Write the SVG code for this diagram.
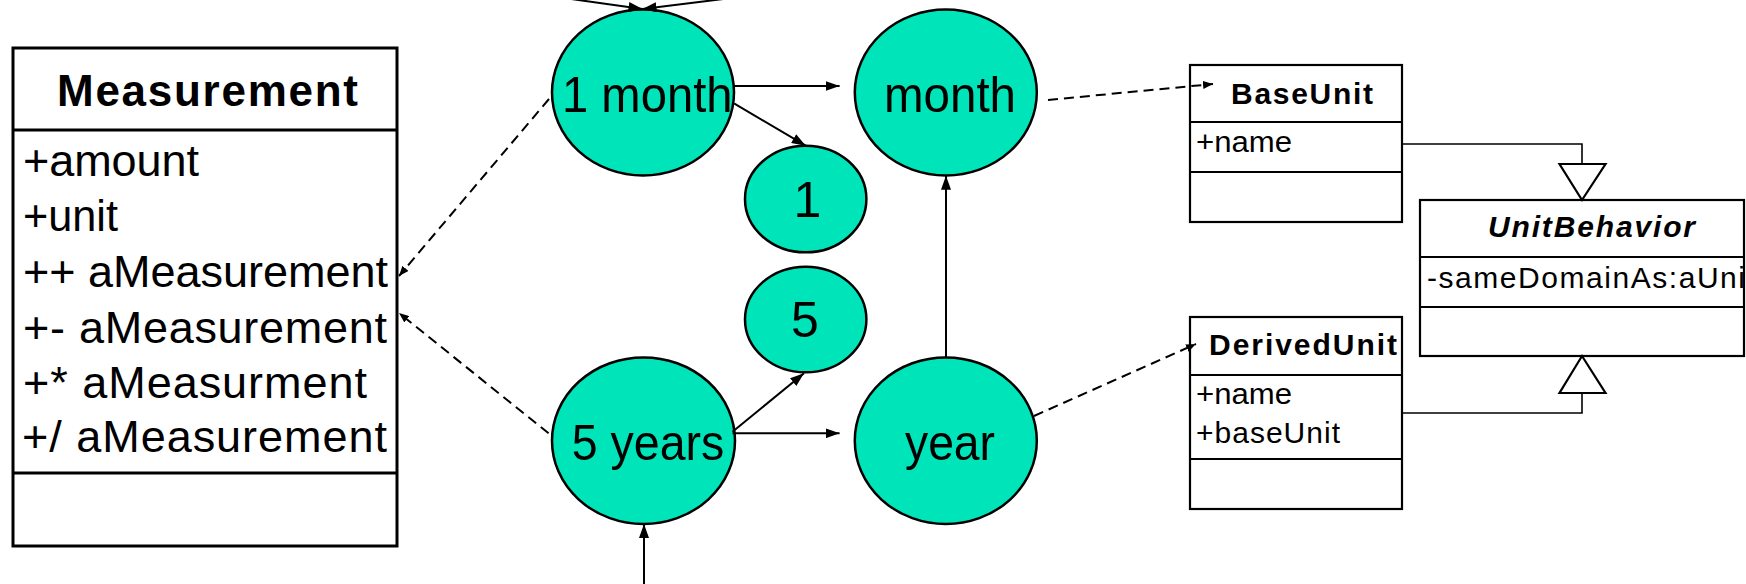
<svg xmlns="http://www.w3.org/2000/svg" width="1746" height="584" viewBox="0 0 1746 584">
<style>
.box{fill:#fff;stroke:#000;stroke-width:3}
.sbox{fill:#fff;stroke:#000;stroke-width:2.2}
.div{stroke:#000;stroke-width:3}
.sdiv{stroke:#000;stroke-width:2.2}
.node{fill:#00E4B9;stroke:#000;stroke-width:2.5}
.t{font-family:"Liberation Sans",Arial,sans-serif;fill:#000}
.big{font-size:50px}
.attr{font-size:45px}
.title{font-size:44px;font-weight:bold}
.st{font-size:30px;font-weight:bold}
.sa{font-size:30px}
.solid{stroke:#000;stroke-width:2;fill:none;marker-end:url(#arr)}
.dash{stroke:#000;stroke-width:2;fill:none;stroke-dasharray:10 6;marker-end:url(#darr)}
.gen{stroke:#000;stroke-width:1.6;fill:none}
.tri{fill:#fff;stroke:#000;stroke-width:2.2}
</style>
<defs>
<marker id="arr" viewBox="0 0 14 10" refX="14" refY="5" markerWidth="14" markerHeight="10" markerUnits="userSpaceOnUse" orient="auto"><path d="M0,0 L14,5 L0,10 z" fill="#000"/></marker>
<marker id="darr" viewBox="0 0 10 8" refX="10" refY="4" markerWidth="10" markerHeight="8" markerUnits="userSpaceOnUse" orient="auto"><path d="M0,0 L10,4 L0,8 z" fill="#000"/></marker>
</defs>

<g id="measurement">
<rect class="box" x="13" y="48" width="384" height="498"/>
<line class="div" x1="13" y1="130" x2="397" y2="130"/>
<line class="div" x1="13" y1="473" x2="397" y2="473"/>
<text class="t title" x="57" y="106" textLength="301" lengthAdjust="spacing">Measurement</text>
<text class="t attr" x="23" y="175.5" textLength="176" lengthAdjust="spacing">+amount</text>
<text class="t attr" x="23" y="231" textLength="95" lengthAdjust="spacingAndGlyphs">+unit</text>
<text class="t attr" x="23" y="287" textLength="365" lengthAdjust="spacing">++ aMeasurement</text>
<text class="t attr" x="23" y="342.5" textLength="364" lengthAdjust="spacing">+- aMeasurement</text>
<text class="t attr" x="23" y="397.5" textLength="344" lengthAdjust="spacing">+* aMeasurment</text>
<text class="t attr" x="22" y="452" textLength="365" lengthAdjust="spacing">+/ aMeasurement</text>
</g>

<g id="n-1month">
<ellipse class="node" cx="643" cy="92.5" rx="91" ry="83"/>
<text class="t big" x="562" y="111.7" textLength="170.5" lengthAdjust="spacingAndGlyphs">1 month</text>
</g>
<g id="n-month">
<ellipse class="node" cx="945.8" cy="92.5" rx="91" ry="83"/>
<text class="t big" x="884" y="112" textLength="132" lengthAdjust="spacingAndGlyphs">month</text>
</g>
<g id="n-1">
<ellipse class="node" cx="805.7" cy="199" rx="60.7" ry="53.3"/>
<text class="t big" x="807.5" y="217.3" text-anchor="middle">1</text>
</g>
<g id="n-5">
<ellipse class="node" cx="805.7" cy="319.5" rx="60.7" ry="52.8"/>
<text class="t big" x="805" y="337.3" text-anchor="middle">5</text>
</g>
<g id="n-5years">
<ellipse class="node" cx="643.5" cy="440.7" rx="91.5" ry="83.3"/>
<text class="t big" x="571.8" y="460" textLength="152.5" lengthAdjust="spacingAndGlyphs">5 years</text>
</g>
<g id="n-year">
<ellipse class="node" cx="945.8" cy="440.7" rx="91" ry="83.3"/>
<text class="t big" x="905" y="460" textLength="90" lengthAdjust="spacingAndGlyphs">year</text>
</g>

<g id="baseunit">
<rect class="sbox" x="1190" y="65" width="212" height="157"/>
<line class="sdiv" x1="1190" y1="122" x2="1402" y2="122"/>
<line class="sdiv" x1="1190" y1="172" x2="1402" y2="172"/>
<text class="t st" x="1231" y="104" textLength="142" lengthAdjust="spacing">BaseUnit</text>
<text class="t sa" x="1196" y="152" textLength="96" lengthAdjust="spacingAndGlyphs">+name</text>
</g>

<g id="derivedunit">
<rect class="sbox" x="1190" y="317" width="212" height="192"/>
<line class="sdiv" x1="1190" y1="375" x2="1402" y2="375"/>
<line class="sdiv" x1="1190" y1="459" x2="1402" y2="459"/>
<text class="t st" x="1209" y="355" textLength="188" lengthAdjust="spacing">DerivedUnit</text>
<text class="t sa" x="1196" y="404" textLength="96" lengthAdjust="spacingAndGlyphs">+name</text>
<text class="t sa" x="1196" y="443" textLength="144" lengthAdjust="spacing">+baseUnit</text>
</g>

<g id="unitbehavior">
<rect class="sbox" x="1420" y="200" width="324" height="156"/>
<line class="sdiv" x1="1420" y1="257" x2="1744" y2="257"/>
<line class="sdiv" x1="1420" y1="307" x2="1744" y2="307"/>
<text class="t st" x="1488" y="237" font-style="italic" textLength="207" lengthAdjust="spacing">UnitBehavior</text>
<text class="t sa" x="1427" y="288" textLength="318" lengthAdjust="spacing">-sameDomainAs:aUni</text>
</g>

<g id="connectors">
<line class="solid" x1="500" y1="-11" x2="642.5" y2="9"/>
<line class="solid" x1="800" y1="-10.5" x2="642.5" y2="9"/>
<line class="solid" x1="734" y1="86" x2="839.6" y2="86"/>
<line class="solid" x1="734" y1="103.3" x2="805.7" y2="145.7"/>
<line class="solid" x1="946" y1="357.3" x2="946" y2="175.7"/>
<line class="solid" x1="732.5" y1="431.7" x2="804" y2="373.3"/>
<line class="solid" x1="732.5" y1="433.3" x2="839.6" y2="433.3"/>
<line class="solid" x1="644" y1="590" x2="644" y2="524"/>
<line class="dash" x1="549" y1="99" x2="399" y2="276"/>
<line class="dash" x1="548.6" y1="433.3" x2="399" y2="313"/>
<line class="dash" x1="1048" y1="100" x2="1213" y2="84"/>
<line class="dash" x1="1034" y1="416" x2="1196" y2="344"/>
<polyline class="gen" points="1402,144 1582,144 1582,164"/>
<polyline class="gen" points="1402,413 1582,413 1582,393"/>
<polygon class="tri" points="1559.5,164 1605.5,164 1582,200"/>
<polygon class="tri" points="1559.5,393 1605.5,393 1582,356"/>
</g>
</svg>
